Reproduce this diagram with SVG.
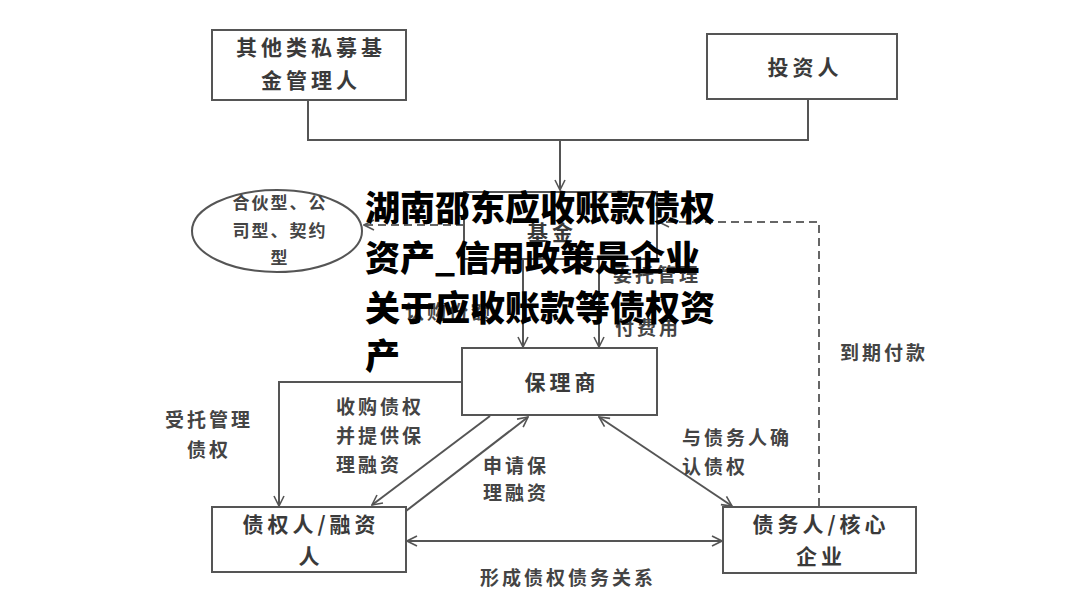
<svg xmlns="http://www.w3.org/2000/svg" width="1080" height="615" viewBox="0 0 1080 615">
<defs>
<marker id="arr" viewBox="0 0 12 12" refX="11" refY="6" markerWidth="12" markerHeight="12" markerUnits="userSpaceOnUse" orient="auto-start-reverse">
<path d="M1,1 L11,6 L1,11" fill="none" stroke="#555" stroke-width="1.6"/>
</marker>
<style>
.box{fill:#fff;stroke:#555;stroke-width:2}
.t{font-family:"Noto Sans CJK SC","Noto Sans CJK JP",sans-serif;font-size:21px;font-weight:700;fill:#3a3a3a;letter-spacing:4px}
.l{font-family:"Noto Sans CJK SC","Noto Sans CJK JP",sans-serif;font-size:19px;font-weight:700;fill:#444;letter-spacing:3px}
.e{font-family:"Noto Sans CJK SC","Noto Sans CJK JP",sans-serif;font-size:17px;font-weight:700;fill:#444;letter-spacing:2px}
.c{fill:none;stroke:#555;stroke-width:2}
.d{fill:none;stroke:#666;stroke-width:2;stroke-dasharray:8,5}
.ov{font-family:"Noto Sans CJK SC","Noto Sans CJK JP",sans-serif;font-size:35px;font-weight:900;fill:#000}
</style>
</defs>
<rect width="1080" height="615" fill="#fff"/>
<g id="connectors">
<path class="c" d="M308,100 V140 H808 V99"/>
<line class="c" x1="560" y1="140" x2="560" y2="190" marker-end="url(#arr)"/>
<path class="d" d="M464,225 H364" marker-end="url(#arr)"/>
<line class="c" x1="523" y1="259" x2="523" y2="347" marker-end="url(#arr)"/>
<line class="c" x1="599" y1="259" x2="599" y2="347" marker-end="url(#arr)"/>
<path class="d" d="M819,506 V222 H659" marker-end="url(#arr)"/>
<path class="c" d="M462,382 H279 V506" marker-end="url(#arr)"/>
<line class="c" x1="490" y1="416" x2="372" y2="505" marker-end="url(#arr)"/>
<line class="c" x1="406" y1="511" x2="528" y2="417" marker-end="url(#arr)"/>
<line class="c" x1="599" y1="417" x2="732" y2="506" marker-start="url(#arr)" marker-end="url(#arr)"/>
<line class="c" x1="407" y1="541" x2="722" y2="541" marker-start="url(#arr)" marker-end="url(#arr)"/>
</g>
<g id="n-manager">
<rect class="box" x="212" y="30" width="194" height="70"/>
<text class="t" x="311" y="55" text-anchor="middle">其他类私募基</text>
<text class="t" x="311" y="88" text-anchor="middle">金管理人</text>
</g>
<g id="n-investor">
<rect class="box" x="707" y="34" width="190" height="65"/>
<text class="t" x="805" y="75" text-anchor="middle">投资人</text>
</g>
<g id="n-fund">
<rect class="box" x="464" y="192" width="193" height="67"/>
<text class="t" x="552" y="240" text-anchor="middle">基金</text>
</g>
<g id="n-types">
<ellipse cx="277" cy="231" rx="85" ry="41" fill="#fff" stroke="#555" stroke-width="2"/>
<text class="e" x="280" y="209" text-anchor="middle">合伙型、公</text>
<text class="e" x="280" y="237" text-anchor="middle">司型、契约</text>
<text class="e" x="280" y="264" text-anchor="middle">型</text>
</g>
<g id="n-factor">
<rect class="box" x="462" y="348" width="195" height="67"/>
<text class="t" x="562" y="390" text-anchor="middle">保理商</text>
</g>
<g id="n-creditor">
<rect class="box" x="212" y="507" width="194" height="65"/>
<text class="t" x="311" y="532" text-anchor="middle">债权人/融资</text>
<text class="t" x="311" y="564" text-anchor="middle">人</text>
</g>
<g id="n-debtor">
<rect class="box" x="723" y="507" width="193" height="66"/>
<text class="t" x="821" y="532" text-anchor="middle">债务人/核心</text>
<text class="t" x="821" y="564" text-anchor="middle">企业</text>
</g>
<g id="labels">
<text class="l" x="405" y="319">认购份额</text>
<text class="l" x="613" y="282">委托管理</text>
<text class="l" x="615" y="335">付费用</text>
<text class="l" x="840" y="360">到期付款</text>
<text class="l" x="209" y="427" text-anchor="middle">受托管理</text>
<text class="l" x="209" y="457" text-anchor="middle">债权</text>
<text class="l" x="336" y="414">收购债权</text>
<text class="l" x="336" y="443">并提供保</text>
<text class="l" x="336" y="472">理融资</text>
<text class="l" x="483" y="473">申请保</text>
<text class="l" x="483" y="500">理融资</text>
<text class="l" x="682" y="445">与债务人确</text>
<text class="l" x="682" y="474">认债权</text>
<text class="l" x="480" y="585">形成债权债务关系</text>
</g>
<g id="overlay">
<text class="ov" x="365" y="221">湖南邵东应收账款债权</text>
<text class="ov" x="365" y="271">资产_信用政策是企业</text>
<text class="ov" x="365" y="321">关于应收账款等债权资</text>
<text class="ov" x="365" y="369">产</text>
</g>
</svg>
